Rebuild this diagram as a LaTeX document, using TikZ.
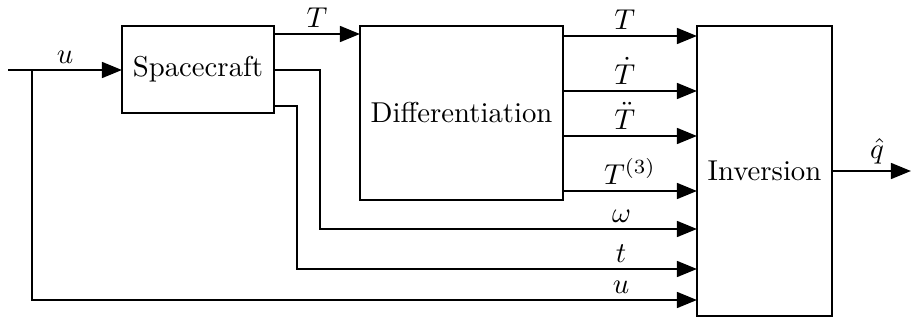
\documentclass[tikz,border=0pt]{standalone}
\usetikzlibrary{arrows.meta}
\begin{document}
\begin{tikzpicture}[x=0.348pt,y=-0.348pt,
  box/.style={draw,line width=0.8pt,inner sep=0pt,outer sep=0pt},
  conn/.style={line width=0.8pt},
  arr/.style={conn,-{Triangle[length=7pt,width=5.5pt]}},
  lbl/.style={above,inner sep=2pt}]
\useasboundingbox (0,0) rectangle (911,322);
% blocks
\node[box,minimum width={152*0.348pt},minimum height={87*0.348pt}] (sc) at (198,69.5) {Spacecraft};
\node[box,minimum width={203*0.348pt},minimum height={174*0.348pt}] (diff) at (461.5,113) {Differentiation};
\node[box,minimum width={135*0.348pt},minimum height={290*0.348pt}] (inv) at (764.5,171) {Inversion};
% coordinates
\coordinate (uin) at (8,70);
\coordinate (br) at (32,70);
\coordinate (qout) at (911,171);
\coordinate (wc) at (320,70);
\coordinate (tc) at (297,106);
% input u
\draw[arr] (uin) -- (sc.west |- uin) node[lbl,pos=0.5] {$u$};
\draw[arr] (br) -- (br |- 0,300) -- (inv.west |- 0,300) node[lbl,pos=0.886] {$u$};
% T to differentiation
\draw[arr] (sc.east |- 0,34) -- (diff.west |- 0,34) node[lbl,midway] {$T$};
% omega
\draw[arr] (sc.east |- wc) -- (wc) -- (wc |- 0,229) -- (inv.west |- 0,229) node[lbl,pos=0.80] {$\omega$};
% t
\draw[arr] (sc.east |- tc) -- (tc) -- (tc |- 0,269) -- (inv.west |- 0,269) node[lbl,pos=0.81] {$t$};
% derivative outputs
\draw[arr] (diff.east |- 0,36) -- (inv.west |- 0,36) node[lbl,pos=0.46] {$T$};
\draw[arr] (diff.east |- 0,91) -- (inv.west |- 0,91) node[lbl,pos=0.46] {$\dot T$};
\draw[arr] (diff.east |- 0,136) -- (inv.west |- 0,136) node[lbl,pos=0.46] {$\ddot T$};
\draw[arr] (diff.east |- 0,191) -- (inv.west |- 0,191) node[lbl,pos=0.5] {$T^{(3)}$};
% output
\draw[arr] (inv.east) -- (qout) node[lbl,pos=0.57] {$\hat q$};
\end{tikzpicture}
\end{document}
